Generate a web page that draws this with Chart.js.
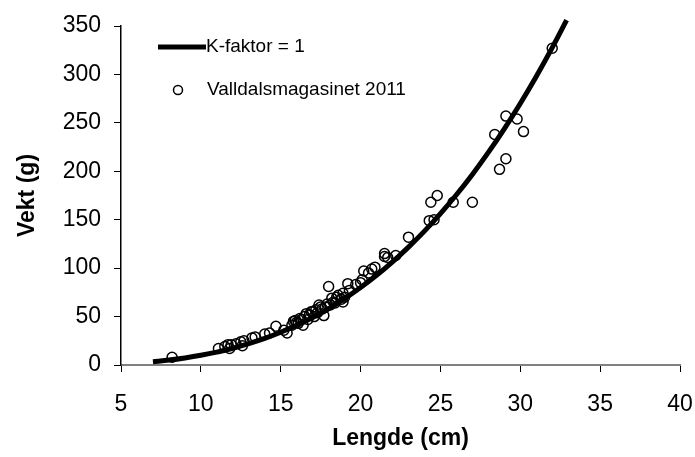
<!DOCTYPE html>
<html>
<head>
<meta charset="utf-8">
<script src="https://cdn.jsdelivr.net/npm/chart.js@4/dist/chart.umd.min.js"></script>
<style>
  html, body { margin: 0; padding: 0; background: #fff; }
  #wrap { width: 695px; height: 457px; }
</style>
</head>
<body>
<div id="wrap"><canvas id="chart-vekt" width="695" height="457"></canvas></div>
<script>
// K-faktor = 1 reference curve (length cm, weight g)
const curveLength = [7, 8, 9, 10, 11, 12, 13, 14, 15, 16, 17, 18, 19, 20, 21, 22, 23, 24, 25, 26, 27, 28, 29, 30, 31, 32, 32.9];
const curveWeight = [3.4, 5.1, 7.3, 10, 13.3, 17.3, 22, 27.4, 33.8, 41, 49.1, 58.3, 68.6, 80, 92.6, 106.5, 121.7, 138.2, 156.3, 175.8, 196.8, 219.5, 243.9, 270, 297.9, 327.7, 356.1];

// Fish sampled in Valldalsmagasinet 2011
const fishLength = [8.2, 11.1, 11.5, 11.7, 11.8, 11.9, 12.2, 12.5, 12.6, 12.7, 13.2, 13.4, 14.0, 14.3, 14.7,
  15.2, 15.4, 15.7, 15.8, 15.9, 16.0, 16.1, 16.2, 16.3, 16.4, 16.5, 16.6, 16.7, 16.8, 16.9, 17.0, 17.1, 17.2,
  17.3, 17.4, 17.5, 17.6, 17.7, 17.8, 17.9, 18.0, 18.1, 18.2, 18.3, 18.4, 18.5, 18.6, 18.8, 18.9, 18.9, 19.0,
  19.2, 19.3, 19.7, 20.0, 20.1, 20.2, 20.5, 20.7, 20.9, 21.5, 21.5, 21.7, 22.2, 23.0, 24.3, 24.4, 24.6, 24.8,
  25.8, 27.0, 28.4, 28.7, 29.1, 29.1, 29.8, 30.2, 32.0];
const fishWeight = [8, 17, 19, 21, 17, 21, 22, 24, 20, 25, 28, 29, 32, 33, 40,
  36, 33, 41, 45, 46, 44, 43, 48, 47, 41, 50, 53, 47, 52, 55, 55, 50, 57,
  54, 62, 60, 58, 51, 60, 63, 81, 62, 69, 65, 64, 70, 72, 68, 74, 65, 70,
  84, 77, 83, 85, 88, 97, 95, 99, 101, 115, 112, 111, 113, 132, 149, 168, 150, 175,
  168, 168, 238, 202, 213, 257, 254, 241, 327];

const xTicks = [5, 10, 15, 20, 25, 30, 35, 40];
const yTicks = [0, 50, 100, 150, 200, 250, 300, 350];

const curvePoints = curveLength.map((l, i) => ({ x: l, y: curveWeight[i] }));
const fishPoints = fishLength.map((l, i) => ({ x: l, y: fishWeight[i] }));

const FONT = '"Liberation Sans", Arial, sans-serif';

// legend drawn inside the plot, upper left
const innerLegend = {
  id: 'innerLegend',
  afterDraw(chart) {
    const ctx = chart.ctx;
    const a = chart.chartArea;
    ctx.save();
    ctx.strokeStyle = '#000';
    ctx.lineWidth = 5;
    ctx.beginPath();
    ctx.moveTo(a.left + 37, a.top + 21);
    ctx.lineTo(a.left + 85, a.top + 21);
    ctx.stroke();
    ctx.lineWidth = 1.5;
    ctx.beginPath();
    ctx.arc(a.left + 57, a.top + 64, 4.5, 0, Math.PI * 2);
    ctx.stroke();
    ctx.fillStyle = '#000';
    ctx.font = '19px ' + FONT;
    ctx.textBaseline = 'middle';
    ctx.fillText('K-faktor = 1', a.left + 85, a.top + 21);
    ctx.fillText('Valldalsmagasinet 2011', a.left + 86, a.top + 64);
    ctx.restore();
  }
};

const chartVekt = new Chart(document.getElementById('chart-vekt'), {
  type: 'scatter',
  data: {
    datasets: [{
      label: 'K-faktor = 1',
      type: 'line',
      data: curvePoints,
      borderColor: '#000',
      borderWidth: 5,
      pointRadius: 0,
      cubicInterpolationMode: 'monotone',
      clip: false,
      order: 2
    }, {
      label: 'Valldalsmagasinet 2011',
      data: fishPoints,
      borderColor: '#000',
      backgroundColor: 'rgba(0,0,0,0)',
      borderWidth: 1.5,
      pointRadius: 5,
      order: 1
    }]
  },
  options: {
    responsive: false,
    animation: false,
    layout: { padding: { top: 26, right: 15, left: 0, bottom: 0 } },
    plugins: {
      legend: { display: false },
      tooltip: { enabled: false }
    },
    scales: {
      x: {
        type: 'linear',
        min: 5,
        max: 40,
        afterBuildTicks: (scale) => { scale.ticks = xTicks.map(v => ({ value: v })); },
        afterFit: (scale) => {
          scale.height = 92;
          scale.paddingLeft = 0;
          scale.paddingRight = 0;
        },
        grid: { drawOnChartArea: false, drawTicks: true, tickLength: 7, color: '#000' },
        border: { display: true, color: '#808080', width: 2 },
        ticks: { color: '#000', font: { family: FONT, size: 23 }, padding: 19, maxRotation: 0 },
        title: {
          display: true,
          text: 'Lengde (cm)',
          color: '#000',
          font: { family: FONT, size: 23, weight: 'bold' },
          padding: { top: 0, bottom: 5 }
        }
      },
      y: {
        min: 0,
        max: 350,
        afterBuildTicks: (scale) => { scale.ticks = yTicks.map(v => ({ value: v })); },
        afterFit: (scale) => {
          scale.width = 121;
          scale.paddingTop = 0;
          scale.paddingBottom = 0;
        },
        grid: { drawOnChartArea: false, drawTicks: true, tickLength: 7, color: '#000' },
        border: { display: true, color: '#000', width: 1.5 },
        ticks: { color: '#000', font: { family: FONT, size: 23 }, padding: 13 },
        title: {
          display: true,
          text: 'Vekt (g)',
          color: '#000',
          font: { family: FONT, size: 23, weight: 'bold' },
          padding: { top: 14, bottom: 0 }
        }
      }
    }
  },
  plugins: [innerLegend]
});
</script>
</body>
</html>
